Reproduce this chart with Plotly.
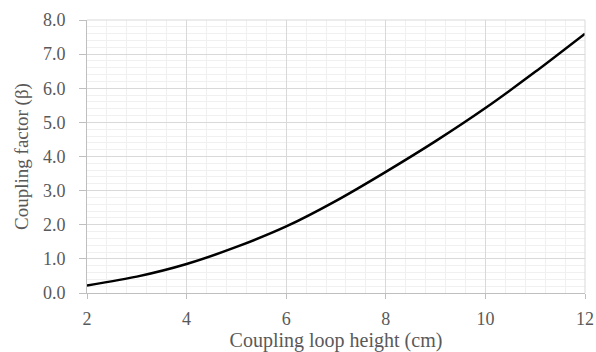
import plotly.graph_objects as go

loop_height_cm = [2, 3, 4, 5, 6, 7, 8, 9, 10, 11, 12]
coupling_factor = [0.22, 0.48, 0.85, 1.35, 1.95, 2.7, 3.55, 4.45, 5.42, 6.48, 7.6]

x_ticks = [2, 4, 6, 8, 10, 12]
y_ticks = [0, 1, 2, 3, 4, 5, 6, 7, 8]

font_family = "Liberation Serif, Times New Roman, serif"
text_color = "#595959"

fig = go.Figure()
fig.add_trace(go.Scatter(
    x=loop_height_cm, y=coupling_factor, mode="lines",
    line=dict(color="black", width=2.5, shape="spline", smoothing=0.6),
    showlegend=False,
))

fig.update_layout(
    width=596, height=352,
    margin=dict(l=87, r=11, t=20, b=59),
    paper_bgcolor="white", plot_bgcolor="white",
    font=dict(family=font_family, color=text_color, size=18),
)
fig.update_xaxes(
    range=[2, 12], tickvals=x_ticks, ticktext=[str(v) for v in x_ticks],
    showgrid=True, gridcolor="#d9d9d9", gridwidth=1,
    minor=dict(dtick=0.4, tick0=2, showgrid=True, gridcolor="#f0f0f0", gridwidth=1),
    showline=True, linecolor="#bfbfbf", linewidth=1,
    ticks="outside", ticklen=5, tickcolor="#bfbfbf",
    ticklabelstandoff=4,
    zeroline=False, automargin=False,
    tickfont=dict(size=18, color=text_color),
    title=dict(text="Coupling loop height (cm)", font=dict(size=20, color=text_color), standoff=5),
)
fig.update_yaxes(
    range=[0, 8], tickvals=y_ticks, ticktext=[f"{v:.1f}" for v in y_ticks],
    showgrid=True, gridcolor="#d9d9d9", gridwidth=1,
    minor=dict(dtick=0.2, tick0=0, showgrid=True, gridcolor="#f0f0f0", gridwidth=1),
    showline=True, linecolor="#bfbfbf", linewidth=1,
    ticks="outside", ticklen=7, tickcolor="#bfbfbf",
    ticklabelstandoff=10,
    zeroline=False, automargin=False,
    tickfont=dict(size=18, color=text_color),
    title=dict(text="Coupling factor (β)", font=dict(size=19, color=text_color), standoff=9),
)
fig.add_shape(type="line", xref="paper", yref="paper", x0=1, x1=1, y0=0, y1=1,
              line=dict(color="#d9d9d9", width=1))
fig.add_shape(type="line", xref="paper", yref="paper", x0=0, x1=1, y0=1, y1=1,
              line=dict(color="#d9d9d9", width=1))

fig.write_html("out.html")
